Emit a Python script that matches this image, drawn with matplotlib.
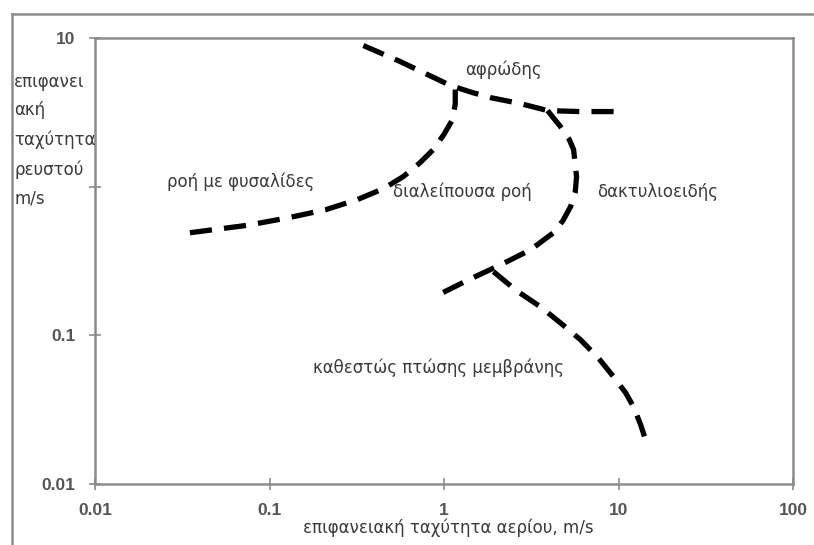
import matplotlib
matplotlib.use("Agg")
import matplotlib.pyplot as plt
from matplotlib.lines import Line2D

# Flow-regime boundaries (superficial gas velocity, superficial liquid velocity), m/s
bubbly_slug_x = [0.035, 0.075, 0.13, 0.21, 0.32, 0.45, 0.585, 0.72, 0.87, 1.0, 1.12, 1.16, 1.16]
bubbly_slug_y = [0.49, 0.55, 0.62, 0.70, 0.82, 0.97, 1.17, 1.43, 1.78, 2.25, 2.83, 3.6, 4.5]

froth_upper_x = [0.345, 0.56, 0.76, 1.09, 1.45, 1.85, 2.74, 3.92, 6.0, 10.7]
froth_upper_y = [8.9, 6.95, 5.86, 4.79, 4.3, 3.97, 3.62, 3.25, 3.2, 3.2]

slug_annular_x = [3.92, 4.65, 5.2, 5.53, 5.75, 5.65, 5.31, 4.8, 4.24, 3.13, 2.11, 1.42, 0.93]
slug_annular_y = [3.25, 2.535, 2.1, 1.775, 1.167, 0.92, 0.733, 0.59, 0.49, 0.376, 0.298, 0.24, 0.1875]

falling_film_x = [1.92, 2.6, 3.57, 4.7, 6.06, 7.7, 9.37, 11.0, 12.2, 13.4, 14.3]
falling_film_y = [0.268, 0.2, 0.1556, 0.12, 0.0933, 0.07, 0.0526, 0.041, 0.033, 0.025, 0.0198]

x_ticks = [0.01, 0.1, 1, 10, 100]
x_tick_labels = ["0.01", "0.1", "1", "10", "100"]
y_ticks = [0.01, 0.1, 1, 10]
y_tick_labels = ["0.01", "0.1", "", "10"]

region_labels = ["αφρώδης", "ροή με φυσαλίδες", "διαλείπουσα ροή",
                 "δακτυλιοειδής", "καθεστώς πτώσης μεμβράνης"]

W, H = 814, 545
fig = plt.figure(figsize=(W / 100, H / 100), dpi=100)
ax = fig.add_axes([95 / W, 61 / H, 698 / W, 446 / H])

ax.set_xscale("log")
ax.set_yscale("log")
ax.set_xlim(0.01, 100)
ax.set_ylim(0.01, 10)

dash = dict(color="black", lw=3.8, linestyle=(0, (4.2, 2.3)),
            solid_capstyle="butt", dash_capstyle="butt")
ax.plot(bubbly_slug_x, bubbly_slug_y, **dash)
ax.plot(froth_upper_x, froth_upper_y, **dash)
ax.plot(slug_annular_x, slug_annular_y, **dash)
ax.plot(falling_film_x, falling_film_y, **dash)

for s in ["top", "right", "left", "bottom"]:
    ax.spines[s].set_color("#8c8c8c")
    ax.spines[s].set_linewidth(1.8)

ax.set_xticks(x_ticks)
ax.set_xticklabels(x_tick_labels)
ax.set_yticks(y_ticks)
ax.set_yticklabels(y_tick_labels)
ax.minorticks_off()
ax.tick_params(axis="both", direction="inout", length=8, width=1.2,
               color="#8c8c8c", labelcolor="#555555", labelsize=12.5)
ax.tick_params(axis="y", pad=10)
ax.tick_params(axis="x", pad=10)
for t in ax.get_xticklabels() + ax.get_yticklabels():
    t.set_family("Liberation Sans")
    t.set_fontweight("bold")

txt = dict(color="#3a3a3a", fontsize=12, va="center", ha="left",
           family="DejaVu Sans")
ax.text(1.33, 6.14, region_labels[0], **txt)
ax.text(0.0259, 1.08, region_labels[1], **txt)
ax.text(0.513, 0.925, region_labels[2], **txt)
ax.text(7.59, 0.925, region_labels[3], **txt)
ax.text(0.178, 0.0604, region_labels[4], **txt)

fig.text(303 / W, 1 - 528 / H, "επιφανειακή ταχύτητα αερίου, m/s",
         color="#3a3a3a", fontsize=12, va="center", ha="left",
         family="DejaVu Sans")
fig.text(14 / W, 1 - 140 / H, "επιφανει\nακή\nταχύτητα\nρευστού\nm/s",
         color="#3a3a3a", fontsize=12, va="center", ha="left",
         family="DejaVu Sans", linespacing=1.76)

# outer frame
fig.add_artist(Line2D([12 / W, 12 / W], [0, 1 - 14 / H], transform=fig.transFigure,
                      color="#8c8c8c", lw=1.8))
fig.add_artist(Line2D([12 / W, 1], [1 - 14 / H, 1 - 14 / H], transform=fig.transFigure,
                      color="#8c8c8c", lw=1.8))

fig.savefig("out.png", dpi=100)
